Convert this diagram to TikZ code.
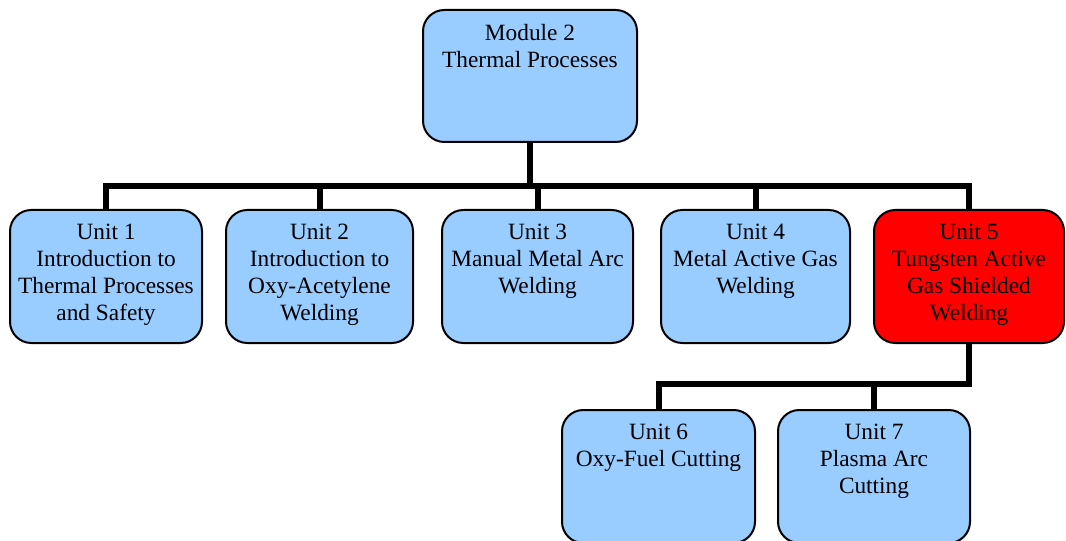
\documentclass[tikz,border=0pt]{standalone}
\usepackage[HTML]{xcolor}
\usepackage{fontspec}
\setmainfont{Liberation Serif}
\usepackage{tikz}
\usetikzlibrary{positioning}

\definecolor{unitblue}{HTML}{99CCFF}
\definecolor{unitred}{HTML}{FF0000}
\newcommand{\boxlines}[1]{\parbox[c][78pt][t]{136pt}{\fontsize{17.5}{20.25}\selectfont\centering #1}}

\begin{document}
\begin{tikzpicture}[x=0.75pt, y=-0.75pt,
  unit/.style={draw=black, line width=1.5pt, rounded corners=16pt, fill=unitblue,
    inner xsep=0pt, inner ysep=9pt, minimum height=99.75pt},
  conn/.style={line width=4.5pt}]
\useasboundingbox (0,0) rectangle (1066,541);

% Module
\node[unit, minimum width=160.5pt, minimum height=99pt] (mod) at (530,76) {\boxlines{Module 2\\Thermal Processes}};

% Units, first row
\node[unit, minimum width=144pt] (u1) at (106,276.5) {\boxlines{Unit 1\\Introduction to\\Thermal Processes\\and Safety}};
\node[unit, minimum width=140.25pt] (u2) at (319.5,276.5) {\boxlines{Unit 2\\Introduction to\\Oxy-Acetylene\\Welding}};
\node[unit, minimum width=143.25pt] (u3) at (537.5,276.5) {\boxlines{Unit 3\\Manual Metal Arc\\Welding}};
\node[unit, minimum width=141.75pt] (u4) at (755.5,276.5) {\boxlines{Unit 4\\Metal Active Gas\\Welding}};
\node[unit, fill=unitred, minimum width=142.5pt] (u5) at (969,276.5) {\boxlines{Unit 5\\Tungsten Active\\Gas Shielded\\Welding}};

% Units, second row
\node[unit, minimum width=144.75pt] (u6) at (658.5,476.5) {\boxlines{Unit 6\\Oxy-Fuel Cutting}};
\node[unit, minimum width=144pt] (u7) at (874,476.5) {\boxlines{Unit 7\\Plasma Arc\\Cutting}};

% Connectors
\coordinate (bus) at (0,186);
\coordinate (bus2) at (0,384);
\draw[conn] (mod.south) -- (mod.south |- bus);
\draw[conn] (u1.north) |- (u5.north |- bus) -- (u5.north);
\foreach \u in {u2,u3,u4}
  \draw[conn] (\u.north) -- (\u.north |- bus);
\draw[conn] (u5.south) |- (u6.north |- bus2) -- (u6.north);
\draw[conn] (u7.north) -- (u7.north |- bus2);
\end{tikzpicture}
\end{document}
